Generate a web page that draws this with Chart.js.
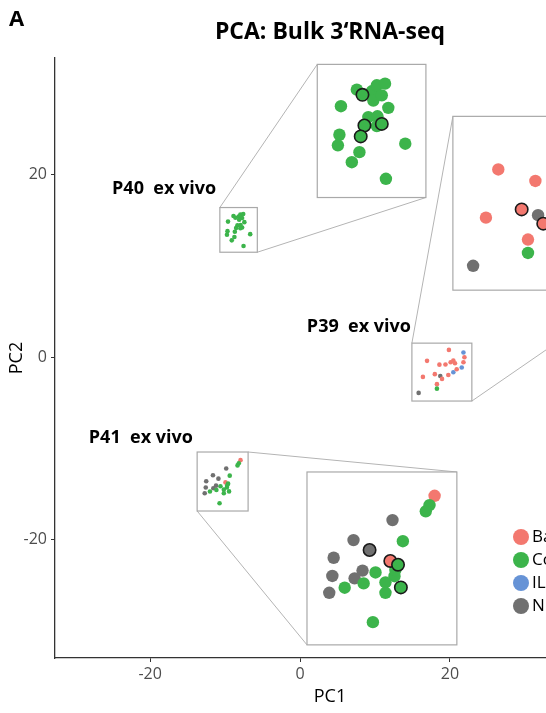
<!DOCTYPE html>
<html>
<head>
<meta charset="utf-8">
<script src="https://cdn.jsdelivr.net/npm/chart.js@4/dist/chart.umd.min.js"></script>
<style>
html, body { margin:0; padding:0; background:#fff; overflow:hidden; width:546px; height:713px; }
canvas { display:block; }
</style>
</head>
<body>
<canvas id="pca" width="640" height="713" style="width:640px;height:713px"></canvas>
<script>
// groups (legend) and colours
const groupNames = ['Baseline', 'Control', 'IL-2', 'Nivolumab'];
const groupColors = ['#F3786F', '#3CB44B', '#6693D6', '#707070'];

// axis ticks
const xTicks = [-20, 0, 20, 40];
const yTicks = [-20, 0, 20];

// P40 ex vivo samples
const p40PC1 = [-9.61, -8.88, -8.62, -8.19, -7.96, -7.58, -8.12, -7.73, -7.43, -8.35, -7.93, -7.73, -8.53, -7.96, -8.70, -9.68, -9.75, -8.76, -9.11, -6.65, -7.54];
const p40PC2 = [14.86, 15.47, 15.28, 15.41, 15.63, 15.69, 15.07, 15.26, 14.80, 14.46, 14.49, 14.21, 14.15, 14.13, 13.75, 13.81, 13.42, 13.17, 12.80, 13.48, 12.19];
const p40Group = [1, 1, 1, 1, 1, 1, 1, 1, 1, 1, 1, 1, 1, 1, 1, 1, 1, 1, 1, 1, 1];
const p40Marked = [0, 0, 1, 0, 0, 0, 0, 0, 0, 0, 0, 1, 1, 0, 1, 0, 0, 0, 0, 0, 0];

// P39 ex vivo samples
const p39PC1 = [19.87, 21.81, 21.94, 16.95, 18.60, 19.41, 20.10, 20.46, 20.68, 21.81, 21.58, 17.99, 18.72, 18.95, 19.79, 20.46, 20.91, 16.40, 18.27, 18.27, 15.83];
const p39PC2 = [0.79, 0.50, -0.01, -0.41, -0.83, -0.82, -0.56, -0.38, -0.67, -0.56, -1.15, -1.87, -2.08, -2.39, -1.96, -1.66, -1.33, -2.17, -2.97, -3.46, -3.93];
const p39Group = [0, 2, 0, 0, 0, 0, 0, 0, 0, 0, 2, 0, 3, 0, 0, 2, 0, 0, 0, 1, 3];
const p39Marked = [0, 0, 0, 0, 0, 0, 0, 0, 0, 0, 0, 1, 0, 1, 0, 0, 0, 0, 0, 0, 0];

// P41 ex vivo samples
const p41PC1 = [-7.94, -8.17, -8.34, -9.85, -11.62, -9.38, -10.89, -12.52, -9.95, -9.60, -12.58, -11.21, -11.57, -10.62, -9.76, -10.17, -11.16, -12.02, -9.47, -12.72, -10.17, -10.74, -9.72];
const p41PC2 = [-11.30, -11.65, -11.88, -12.21, -12.96, -13.00, -13.33, -13.62, -13.74, -13.88, -14.30, -14.10, -14.39, -14.17, -14.31, -14.54, -14.58, -14.74, -14.73, -14.93, -14.93, -16.03, -14.08];
const p41Group = [0, 1, 1, 3, 3, 1, 3, 3, 0, 1, 3, 3, 3, 1, 1, 1, 1, 1, 1, 3, 1, 1, 1];
const p41Marked = [0, 0, 0, 0, 0, 0, 1, 0, 1, 1, 0, 0, 0, 0, 0, 0, 0, 0, 1, 0, 0, 0, 0];

// zoom boxes: small region -> magnified region (data units), and label
const insets = [
    { label: 'P40  ex vivo', pc1: p40PC1, pc2: p40PC2, group: p40Group, marked: p40Marked,
      from: [-10.7, -5.7, 11.5, 16.4], to: [2.3, 16.8, 17.5, 32.1], links: ['tl', 'br'], labelAt: [-11.2, 18.4] },
    { label: 'P39  ex vivo', pc1: p39PC1, pc2: p39PC2, group: p39Group, marked: p39Marked,
      from: [14.93, 22.93, -4.82, 1.53], to: [20.4, 44.4, 7.34, 26.4], links: ['tl', 'br'], labelAt: [14.8, 3.3] },
    { label: 'P41  ex vivo', pc1: p41PC1, pc2: p41PC2, group: p41Group, marked: p41Marked,
      from: [-13.73, -6.93, -16.88, -10.41], to: [0.93, 20.93, -31.56, -12.6], links: ['tr', 'bl'], labelAt: [-14.3, -8.9] }
];

const FONT = "'Open Sans', sans-serif";
Chart.defaults.font.family = FONT;

function zoomPoint(inset, x, y) {
    const f = inset.from, t = inset.to;
    return {
        x: t[0] + (x - f[0]) * (t[1] - t[0]) / (f[1] - f[0]),
        y: t[2] + (y - f[2]) * (t[3] - t[2]) / (f[3] - f[2])
    };
}

function colorOf(ctx) {
    return ctx.raw ? groupColors[ctx.raw.g] : '#000';
}

const datasets = [];
insets.forEach(inset => {
    const main = inset.pc1.map((x, i) => ({ x: x, y: inset.pc2[i], g: inset.group[i] }));
    const plain = [], marked = [];
    inset.pc1.forEach((x, i) => {
        const p = zoomPoint(inset, x, inset.pc2[i]);
        p.g = inset.group[i];
        (inset.marked[i] ? marked : plain).push(p);
    });
    datasets.push({ data: main, pointRadius: 2.3, pointBorderWidth: 0,
        pointBackgroundColor: colorOf, pointBorderColor: colorOf, order: 3 });
    datasets.push({ data: plain, pointRadius: 6.2, pointBorderWidth: 0,
        pointBackgroundColor: colorOf, pointBorderColor: colorOf, order: 2, clip: false });
    datasets.push({ data: marked, pointRadius: 6.2, pointBorderWidth: 1.6,
        pointBackgroundColor: colorOf, pointBorderColor: '#1a1a1a', order: 1, clip: false });
});

// boxes, connector lines and labels, drawn under the points
const zoomFrames = {
    id: 'zoomFrames',
    beforeDatasetsDraw(chart) {
        const ctx = chart.ctx, xs = chart.scales.x, ys = chart.scales.y;
        const corner = (b, c) => [
            xs.getPixelForValue(c[1] === 'l' ? b[0] : b[1]),
            ys.getPixelForValue(c[0] === 't' ? b[3] : b[2])
        ];
        ctx.save();
        insets.forEach(inset => {
            // connectors
            ctx.strokeStyle = '#b4b4b4';
            ctx.lineWidth = 1;
            inset.links.forEach(c => {
                const a = corner(inset.from, c), b = corner(inset.to, c);
                ctx.beginPath();
                ctx.moveTo(a[0], a[1]);
                ctx.lineTo(b[0], b[1]);
                ctx.stroke();
            });
            // frames
            [inset.from, inset.to].forEach(b => {
                const x0 = xs.getPixelForValue(b[0]), x1 = xs.getPixelForValue(b[1]);
                const y0 = ys.getPixelForValue(b[3]), y1 = ys.getPixelForValue(b[2]);
                ctx.fillStyle = '#fff';
                ctx.fillRect(x0, y0, x1 - x0, y1 - y0);
                ctx.strokeStyle = '#a9a9a9';
                ctx.lineWidth = 1.2;
                ctx.strokeRect(x0, y0, x1 - x0, y1 - y0);
            });
            // label
            ctx.fillStyle = '#000';
            ctx.font = 'bold 18px ' + FONT;
            ctx.textAlign = 'right';
            ctx.textBaseline = 'middle';
            ctx.fillText(inset.label, xs.getPixelForValue(inset.labelAt[0]), ys.getPixelForValue(inset.labelAt[1]));
        });
        ctx.restore();
    }
};

// legend inside the panel and the panel letter
const extras = {
    id: 'extras',
    afterDraw(chart) {
        const ctx = chart.ctx, area = chart.chartArea;
        ctx.save();
        const kx = area.left + 466, ky = area.bottom - 121;
        groupNames.forEach((name, i) => {
            ctx.fillStyle = groupColors[i];
            ctx.beginPath();
            ctx.arc(kx, ky + i * 23, 8, 0, Math.PI * 2);
            ctx.fill();
            ctx.fillStyle = '#000';
            ctx.font = '17px ' + FONT;
            ctx.textAlign = 'left';
            ctx.textBaseline = 'middle';
            ctx.fillText(name, kx + 11, ky + i * 23);
        });
        ctx.font = 'bold 22px ' + FONT;
        ctx.textBaseline = 'middle';
        ctx.fillText('A', 9, 20);
        ctx.restore();
    }
};

const axisStyle = {
    grid: { drawOnChartArea: false, drawTicks: true, tickLength: 4, tickColor: '#333', color: '#333' },
    border: { display: true, color: '#333', width: 1.3 }
};

new Chart(document.getElementById('pca'), {
    type: 'scatter',
    data: { datasets: datasets },
    plugins: [zoomFrames, extras],
    options: {
        responsive: false,
        animation: false,
        events: [],
        layout: { padding: { left: 0, right: 35, top: 0, bottom: 0 } },
        plugins: {
            legend: { display: false },
            tooltip: { enabled: false },
            title: {
                display: true,
                fullSize: false,
                text: 'PCA: Bulk 3\u2018RNA-seq',
                color: '#000',
                font: { size: 23, weight: 'bold' },
                padding: { top: 19, bottom: 11.4 }
            }
        },
        scales: {
            x: Object.assign({}, axisStyle, {
                type: 'linear', min: -32.7, max: 40.7,
                afterBuildTicks: s => { s.ticks = xTicks.map(v => ({ value: v })); },
                afterFit: s => { s.height = 55; },
                ticks: { font: { size: 16 }, color: '#4d4d4d', padding: 3 },
                title: { display: true, text: 'PC1', color: '#000', font: { size: 18 }, padding: { top: 0, bottom: 5 } }
            }),
            y: Object.assign({}, axisStyle, {
                type: 'linear', min: -33, max: 32.8,
                afterBuildTicks: s => { s.ticks = yTicks.map(v => ({ value: v })); },
                afterFit: s => { s.width = 55; },
                ticks: { font: { size: 16 }, color: '#4d4d4d', padding: 4 },
                title: { display: true, text: 'PC2', color: '#000', font: { size: 18 }, padding: { top: 6, bottom: 0 } }
            })
        }
    }
});
</script>
</body>
</html>
